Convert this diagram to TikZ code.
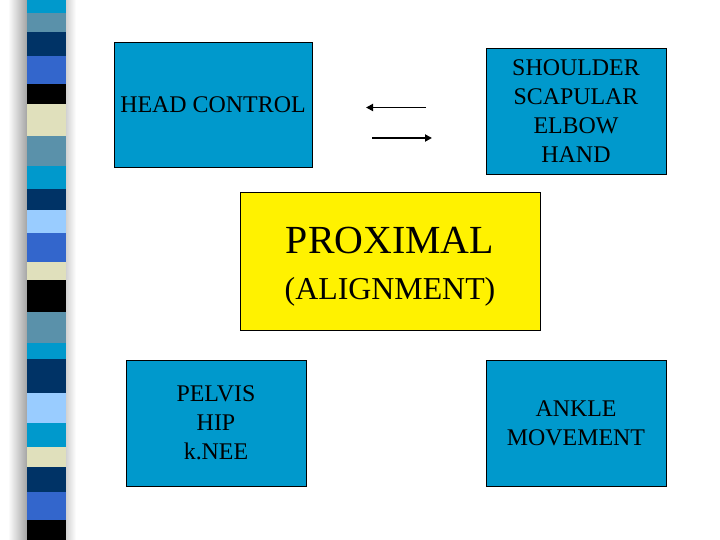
\documentclass[tikz,border=0pt]{standalone}
\usepackage{fontspec}
\setmainfont{Liberation Serif}
\usetikzlibrary{arrows.meta}
\definecolor{boxblue}{RGB}{0,153,204}
\definecolor{stcyan}{RGB}{0,153,204}
\definecolor{ststeel}{RGB}{90,145,170}
\definecolor{stnavy}{RGB}{0,51,102}
\definecolor{stroyal}{RGB}{51,102,204}
\definecolor{stbeige}{RGB}{224,224,188}
\definecolor{stlight}{RGB}{153,204,255}
\definecolor{stblack}{RGB}{0,0,0}
\tikzset{
  bluebox/.style={draw=black, line width=0.8pt, fill=boxblue, minimum width=180bp, minimum height=126bp, inner sep=0pt, align=center, font=\fontsize{24}{29}\selectfont},
  yellowbox/.style={draw=black, line width=0.8pt, fill=yellow, minimum width=300bp, minimum height=138bp, inner sep=0pt},
  proxtext/.style={inner sep=0pt, align=center, font=\fontsize{32}{46}\selectfont},
  flowarrow/.style={line width=1.8pt, -{Triangle[length=7bp,width=7bp]}},
}
\begin{document}
\begin{tikzpicture}[x=1bp,y=-1bp]
\useasboundingbox (0,0) rectangle (720,540);
\fill[white] (0,0) rectangle (720,540);
% shadow of the stripe bar
\shade[left color=white, right color=gray!75] (8,0) rectangle (28,540);
\shade[left color=gray!35, right color=white] (66,0) rectangle (76,540);
% stripes
\foreach \ya/\yb/\c in {0/13/stcyan,13/32/ststeel,32/56/stnavy,56/84/stroyal,84/104/stblack,104/136/stbeige,136/166/ststeel,166/189/stcyan,189/210/stnavy,210/233/stlight,233/262/stroyal,262/280/stbeige,280/312/stblack,312/343/ststeel,343/359/stcyan,359/393/stnavy,393/423/stlight,423/447/stcyan,447/467/stbeige,467/492/stnavy,492/520/stroyal,520/540/stblack}
  \fill[\c] (27,\ya) rectangle (66,\yb);
% boxes
\node[bluebox, minimum width=198bp, minimum height=125bp] (head) at (213,104.5) {HEAD CONTROL};
\node[bluebox] (shoulder) at (576,111) {SHOULDER\\SCAPULAR\\ELBOW\\HAND};
\node[yellowbox] (prox) at (390,261) {};
\node[proxtext] (proxlabel) at (390,267) {{\fontsize{40}{46}\selectfont PROXIMAL}\\(ALIGNMENT)};
\node[bluebox] (pelvis) at (216,423) {PELVIS\\HIP\\k.NEE};
\node[bluebox] (ankle) at (576,423) {ANKLE\\MOVEMENT};
% arrows
\coordinate (a1s) at (426,107.5);
\coordinate (a1e) at (366,107.5);
\coordinate (a2s) at (372,138);
\coordinate (a2e) at (432,138);
\draw[flowarrow] (a1s) -- (a1e);
\draw[flowarrow] (a2s) -- (a2e);
\end{tikzpicture}
\end{document}
